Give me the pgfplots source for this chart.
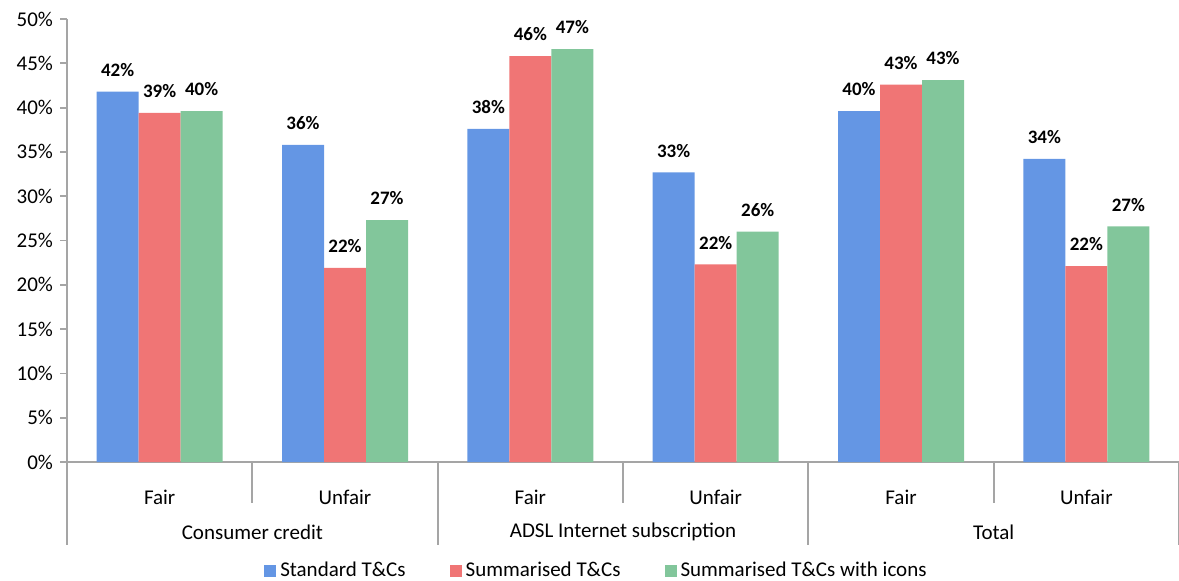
\documentclass[border=0pt]{standalone}
\usepackage{pgfplots}
\pgfplotsset{compat=1.18}
\usepackage{fontspec}
\setmainfont{Carlito}
\definecolor{cblue}{RGB}{100,150,228}
\definecolor{cred}{RGB}{240,117,117}
\definecolor{cgreen}{RGB}{130,198,155}
\definecolor{axgray}{RGB}{165,165,165}

\begin{document}
\begin{tikzpicture}
\path[use as bounding box] (-33.5pt,-59pt) rectangle (556pt,231pt);
\begin{axis}[
  scale only axis, width=556pt, height=221.5pt,
  ybar=0pt, bar width=21pt,
  xmin=-0.5, xmax=5.5, ymin=0, ymax=50,
  axis x line=bottom, axis y line=left,
  axis line style={-, draw=axgray, line width=0.9pt},
  xtick={0,...,5}, xticklabels={Fair,Unfair,Fair,Unfair,Fair,Unfair},
  xtick style={draw=none},
  xticklabel style={anchor=center, yshift=-14pt, font=\fontsize{10.5}{12}\selectfont},
  ytick={0,5,...,50},
  yticklabels={0\%,5\%,10\%,15\%,20\%,25\%,30\%,35\%,40\%,45\%,50\%},
  yticklabel style={font=\fontsize{10.5}{12}\selectfont},
  ytick style={draw=axgray, line width=0.9pt},
  tick align=outside, major tick length=3.5pt,
  clip=false,
  nodes near coords={\textbf{\pgfmathprintnumber[fixed,precision=0,assume math mode=true]{\pgfplotspointmeta}\%}},
  nodes near coords style={font=\fontsize{9.5}{11}\selectfont, anchor=south, yshift=4pt},
  legend style={at={(0.477,-0.245)}, anchor=center, draw=none, legend columns=3,
    font=\fontsize{10.5}{12}\selectfont,
    /tikz/every even column/.append style={column sep=20pt},
    /tikz/every odd column/.append style={inner xsep=1.5pt}},
  legend image code/.code={\fill[#1] (0pt,-3pt) rectangle (6pt,3pt);},
]
\addplot[fill=cblue, draw=none] coordinates {(0,41.8) (1,35.8) (2,37.6) (3,32.7) (4,39.6) (5,34.2)};
\addplot[fill=cred, draw=none] coordinates {(0,39.4) (1,21.9) (2,45.8) (3,22.3) (4,42.6) (5,22.1)};
\addplot[fill=cgreen, draw=none] coordinates {(0,39.6) (1,27.3) (2,46.6) (3,26.0) (4,43.1) (5,26.6)};
\legend{Standard T\&Cs, Summarised T\&Cs, Summarised T\&Cs with icons}
% group separators
\draw[axgray, line width=0.9pt] (axis cs:0.5,0) -- ([yshift=-20.5pt]axis cs:0.5,0);
\draw[axgray, line width=0.9pt] (axis cs:2.5,0) -- ([yshift=-20.5pt]axis cs:2.5,0);
\draw[axgray, line width=0.9pt] (axis cs:4.5,0) -- ([yshift=-20.5pt]axis cs:4.5,0);
\draw[axgray, line width=0.9pt] (axis cs:-0.5,0) -- ([yshift=-41.5pt]axis cs:-0.5,0);
\draw[axgray, line width=0.9pt] (axis cs:1.5,0) -- ([yshift=-41.5pt]axis cs:1.5,0);
\draw[axgray, line width=0.9pt] (axis cs:3.5,0) -- ([yshift=-41.5pt]axis cs:3.5,0);
\draw[axgray, line width=0.9pt] (axis cs:5.5,0) -- ([yshift=-41.5pt]axis cs:5.5,0);
\node[font=\fontsize{10.5}{12}\selectfont] at ([yshift=-35pt]axis cs:0.5,0) {Consumer credit};
\node[font=\fontsize{10.5}{12}\selectfont] at ([yshift=-35pt]axis cs:2.5,0) {ADSL Internet subscription};
\node[font=\fontsize{10.5}{12}\selectfont] at ([yshift=-35pt]axis cs:4.5,0) {Total};
\end{axis}
\end{tikzpicture}
\end{document}
